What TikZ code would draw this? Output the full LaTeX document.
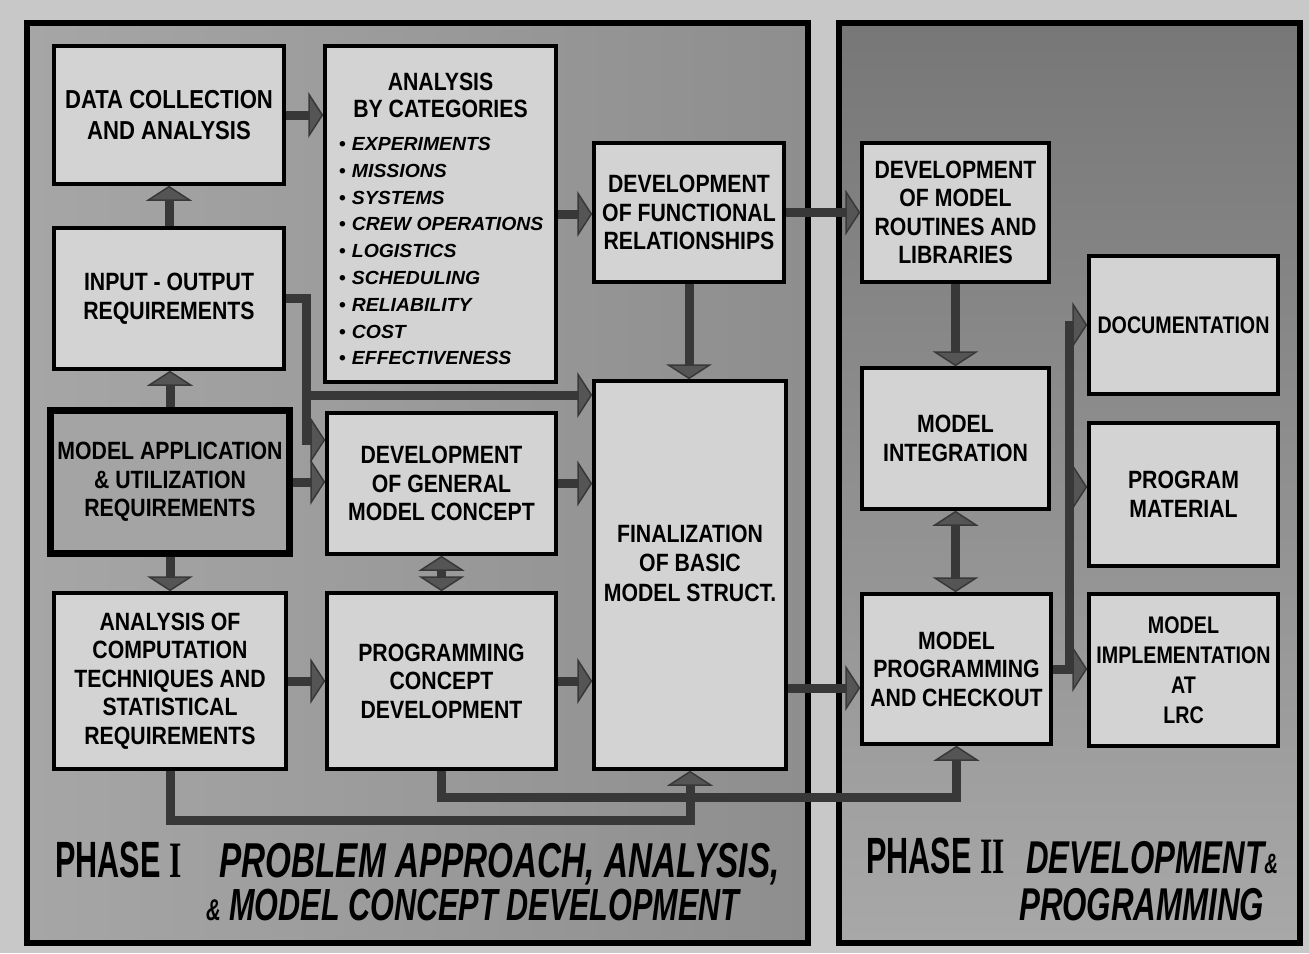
\documentclass[tikz,border=0pt]{standalone}
\usepackage{fontspec}
\setmainfont[FakeStretch=0.85]{Liberation Sans}
\newfontfamily\narrowfont[FakeStretch=0.82]{Liberation Sans}
\newfontfamily\catfont[FakeStretch=1.02]{Liberation Sans}
\newfontfamily\capfont[FakeStretch=0.68]{Liberation Sans}
\newfontfamily\phasefont[FakeStretch=0.6]{Liberation Sans}
\newfontfamily\numfont[FakeStretch=0.62]{Liberation Serif}
\usetikzlibrary{arrows.meta,calc}
\definecolor{pagebg}{HTML}{C8C8C8}
\definecolor{panelAl}{HTML}{A6A6A6}
\definecolor{panelAr}{HTML}{8E8E8E}
\definecolor{panelBtop}{HTML}{777777}
\definecolor{panelBbot}{HTML}{A8A8A8}
\definecolor{boxfill}{HTML}{D3D3D3}
\definecolor{appfill}{HTML}{A4A4A4}
\definecolor{shaft}{HTML}{383838}
\definecolor{head}{HTML}{555555}
\newcommand{\bul}{{\upshape\textbullet}\hspace{6pt}}
\begin{document}
\begin{tikzpicture}[x=1pt,y=-1pt,
  box/.style={draw=black,line width=3.5pt,fill=boxfill,rectangle,inner sep=2pt,align=center,
    font=\fontsize{25}{28.5}\selectfont\bfseries},
  narrowbox/.style={box,font=\narrowfont\fontsize{24}{28.5}\selectfont\bfseries},
  appbox/.style={box,fill=appfill,line width=7pt},
  panel/.style={draw=black,line width=6pt},
  arr/.style={draw=shaft,line width=9pt,-{Triangle[width=46pt,length=15pt,line width=1.5pt 0 1,fill=head]}},
  darr/.style={draw=shaft,line width=9pt,{Triangle[width=46pt,length=15pt,line width=1.5pt 0 1,fill=head]}-{Triangle[width=46pt,length=15pt,line width=1.5pt 0 1,fill=head]}},
  caption/.style={anchor=base west,inner sep=0pt},
]
\useasboundingbox (0,0) rectangle (1309,953);
\fill[pagebg] (0,0) rectangle (1309,953);
% panels
\path[panel,left color=panelAl,right color=panelAr] (27,23) rectangle (808,943);
\path[panel,top color=panelBtop,bottom color=panelBbot] (839,23) rectangle (1300,943);

% Phase I boxes
\node[box,minimum width=230pt,minimum height=138pt,font=\fontsize{26}{31}\selectfont\bfseries] (data) at (169,115) {DATA COLLECTION\\AND ANALYSIS};
\node[box,minimum width=231pt,minimum height=336pt] (cat) at (440.5,214) {};
\node[inner sep=0pt,align=center,font=\fontsize{25}{27}\selectfont\bfseries] (cattitle) at (440.5,95) {ANALYSIS\\BY CATEGORIES};
\node[anchor=north west,inner sep=0pt,align=left,font=\catfont\fontsize{19}{26.8}\selectfont\bfseries\itshape] (catlist) at (339,137)
  {\bul EXPERIMENTS\\\bul MISSIONS\\\bul SYSTEMS\\\bul CREW OPERATIONS\\\bul LOGISTICS\\\bul SCHEDULING\\\bul RELIABILITY\\\bul COST\\\bul EFFECTIVENESS};
\node[box,minimum width=230pt,minimum height=141pt] (io) at (169,298.5) {INPUT - OUTPUT\\REQUIREMENTS};
\node[appbox,minimum width=239pt,minimum height=143pt] (app) at (170,482) {MODEL APPLICATION\\\& UTILIZATION\\REQUIREMENTS};
\node[box,minimum width=229pt,minimum height=141pt] (gen) at (441.5,483.5) {DEVELOPMENT\\OF GENERAL\\MODEL CONCEPT};
\node[box,minimum width=232pt,minimum height=176pt] (comp) at (170,681) {ANALYSIS OF\\COMPUTATION\\TECHNIQUES AND\\STATISTICAL\\REQUIREMENTS};
\node[box,minimum width=229pt,minimum height=176pt] (prog) at (441.5,681) {PROGRAMMING\\CONCEPT\\DEVELOPMENT};
\node[box,minimum width=190pt,minimum height=139pt] (func) at (689,212.5) {DEVELOPMENT\\OF FUNCTIONAL\\RELATIONSHIPS};
\node[box,minimum width=192pt,minimum height=388pt] (fin) at (690,575) {};
\node[inner sep=0pt,align=center,font=\fontsize{25}{29.5}\selectfont\bfseries] (finlabel) at (690,563) {FINALIZATION\\OF BASIC\\MODEL STRUCT.};

% Phase II boxes
\node[box,minimum width=187pt,minimum height=139pt] (rout) at (955.5,212.5) {DEVELOPMENT\\OF MODEL\\ROUTINES AND\\LIBRARIES};
\node[box,minimum width=187pt,minimum height=141pt] (integ) at (955.5,438.5) {MODEL\\INTEGRATION};
\node[box,minimum width=189pt,minimum height=150pt] (mprog) at (956.5,669) {MODEL\\PROGRAMMING\\AND CHECKOUT};
\node[narrowbox,minimum width=189pt,minimum height=138pt] (doc) at (1183.5,325) {DOCUMENTATION};
\node[box,minimum width=189pt,minimum height=143pt] (pmat) at (1183.5,494.5) {PROGRAM\\MATERIAL};
\node[narrowbox,minimum width=189pt,minimum height=152pt,font=\narrowfont\fontsize{24}{30}\selectfont\bfseries] (impl) at (1183.5,670) {MODEL\\IMPLEMENTATION\\AT\\LRC};

% connectors Phase I
\draw[arr] (data.east) -- (data.east -| cat.west);
\draw[arr] (io.north) -- (io.north |- data.south);
\draw[arr] (app.north) -- (app.north |- io.south);
\draw[arr] (app.south) -- (app.south |- comp.north);
\draw[arr] (app.east) -- (app.east -| gen.west);
\coordinate (ioA) at (306,298.5);
\coordinate (ioB) at (306,440);
\coordinate (ioC) at (306,395);
\draw[arr] (io.east) -- (ioA) -- (ioB) -- (ioB -| gen.west);
\draw[arr] (ioC) -- (ioC -| fin.west);
\draw[arr] (cat.east) -- (cat.east -| func.west);
\draw[arr] (func.south) -- (func.south |- fin.north);
\draw[arr] (gen.east) -- (gen.east -| fin.west);
\draw[darr] (gen.south) -- (gen.south |- prog.north);
\draw[arr] (comp.east) -- (comp.east -| prog.west);
\draw[arr] (prog.east) -- (prog.east -| fin.west);
\coordinate (cA) at (170,820);
\coordinate (cB) at (690,820);
\draw[arr] (comp.south) -- (cA) -- (cB) -- (fin.south);
\coordinate (pA) at (441.5,797);
\coordinate (pB) at (956.5,797);
\draw[arr] (prog.south) -- (pA) -- (pB) -- (mprog.south);

% connectors to / in Phase II
\draw[arr] (func.east) -- (func.east -| rout.west);
\coordinate (fA) at (700,688);
\draw[arr] (fin.east |- fA) -- (mprog.west |- fA);
\draw[arr] (rout.south) -- (rout.south |- integ.north);
\draw[darr] (integ.south) -- (integ.south |- mprog.north);
\coordinate (bus0) at (1069,669);
\coordinate (bus1) at (1069,325);
\coordinate (bus2) at (1069,487);
\draw[arr] (mprog.east) -- (mprog.east -| impl.west);
\draw[arr] (bus0) -- (bus1) -- (bus1 -| doc.west);
\draw[arr] (bus2) -- (bus2 -| pmat.west);

% captions
\node[caption,font=\phasefont\fontsize{51}{51}\selectfont\bfseries] (ph1) at (55,877) {PHASE\hspace{9pt}{\numfont I}};
\node[caption,font=\capfont\fontsize{49}{49}\selectfont\bfseries\itshape] (ph1a) at (219,877) {PROBLEM APPROACH, ANALYSIS,};
\node[caption,font=\capfont\fontsize{45}{45}\selectfont\bfseries\itshape] (ph1b) at (206,920) {{\fontsize{30}{30}\selectfont\&} MODEL CONCEPT DEVELOPMENT};
\node[caption,font=\phasefont\fontsize{51}{51}\selectfont\bfseries] (ph2) at (866,873) {PHASE\hspace{9pt}{\numfont II}};
\node[caption,font=\capfont\fontsize{46}{46}\selectfont\bfseries\itshape] (ph2a) at (1026,873) {DEVELOPMENT{\fontsize{28}{28}\selectfont\&}};
\node[caption,font=\capfont\fontsize{46}{46}\selectfont\bfseries\itshape] (ph2b) at (1019,920) {PROGRAMMING};
\end{tikzpicture}
\end{document}
